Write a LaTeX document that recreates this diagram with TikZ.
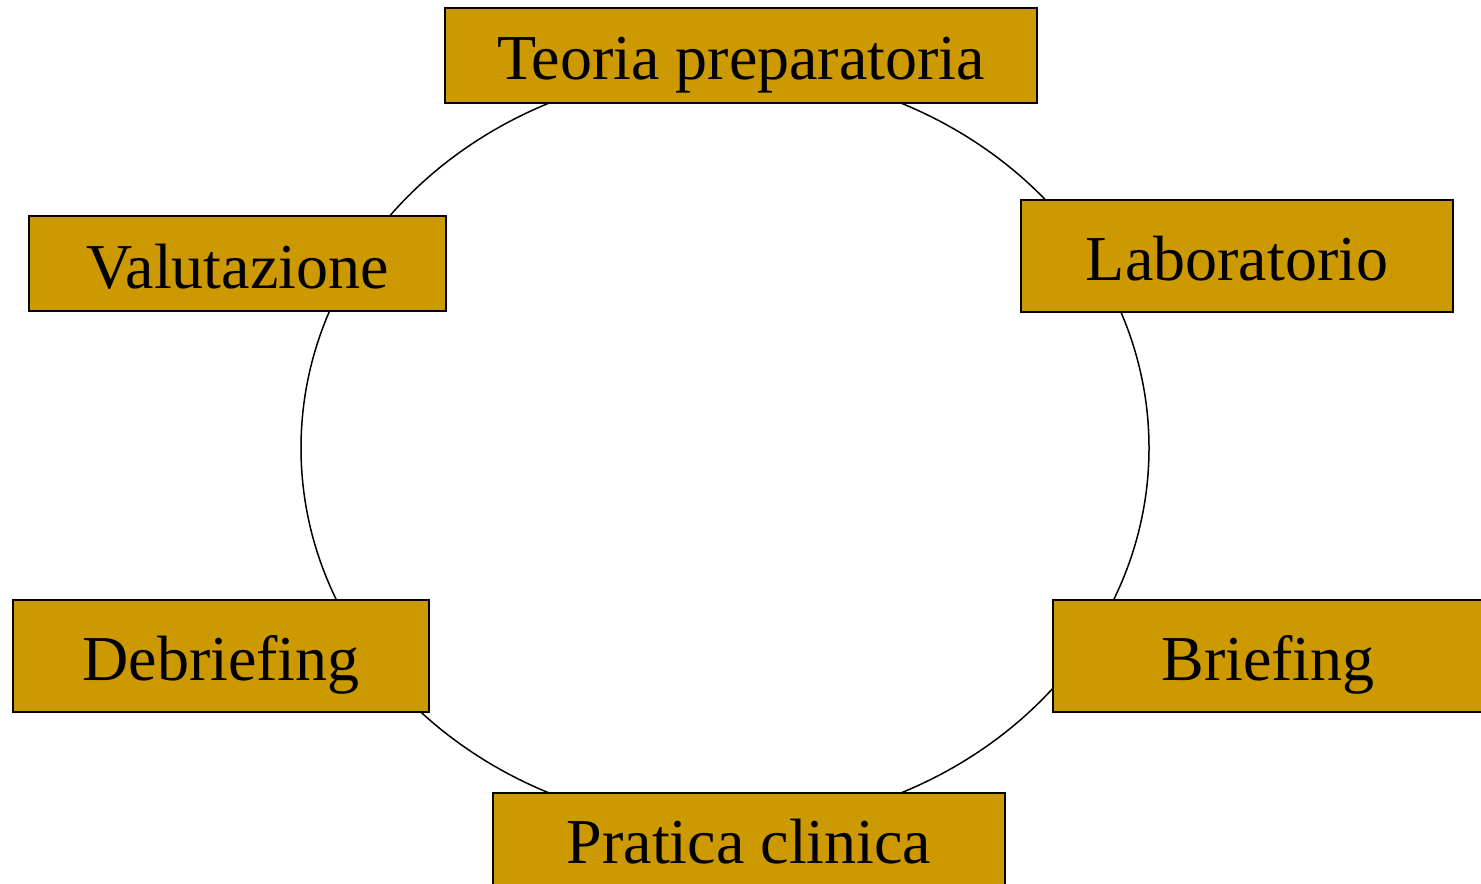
\documentclass[tikz,border=0pt]{standalone}
\usepackage{fontspec}
\setmainfont{Liberation Serif}
\usepackage{xcolor}
\usepackage{tikz}
\usetikzlibrary{positioning}

\definecolor{ocra}{HTML}{CC9900}

\begin{document}
\begin{tikzpicture}[x=0.5pt, y=-0.5pt,
    phase/.style={draw, line width=1pt, fill=ocra, rectangle, inner sep=0pt,
        text height=24.5pt, text depth=0pt, font=\fontsize{32}{38}\selectfont}]
\useasboundingbox (0,0) rectangle (1481,883);

% the cycle
\draw[line width=0.75pt] (725,448) ellipse [x radius=212pt, y radius=189.5pt];

% phases
\node[phase, minimum width=296pt, minimum height=47.5pt] (teoria) at (741,55.5) {Teoria preparatoria};
\node[phase, minimum width=216pt, minimum height=56pt] (lab) at (1237,256) {Laboratorio};
\node[phase, minimum width=215pt, minimum height=56pt] (brief) at (1268,656) {Briefing};
\node[phase, minimum width=256pt, minimum height=46pt] (pratica) at (749,839) {Pratica clinica};
\node[phase, minimum width=208pt, minimum height=56pt] (debrief) at (221,656) {Debriefing};
\node[phase, minimum width=208.5pt, minimum height=47.5pt] (valut) at (237.5,263.5) {Valutazione};
\end{tikzpicture}
\end{document}
